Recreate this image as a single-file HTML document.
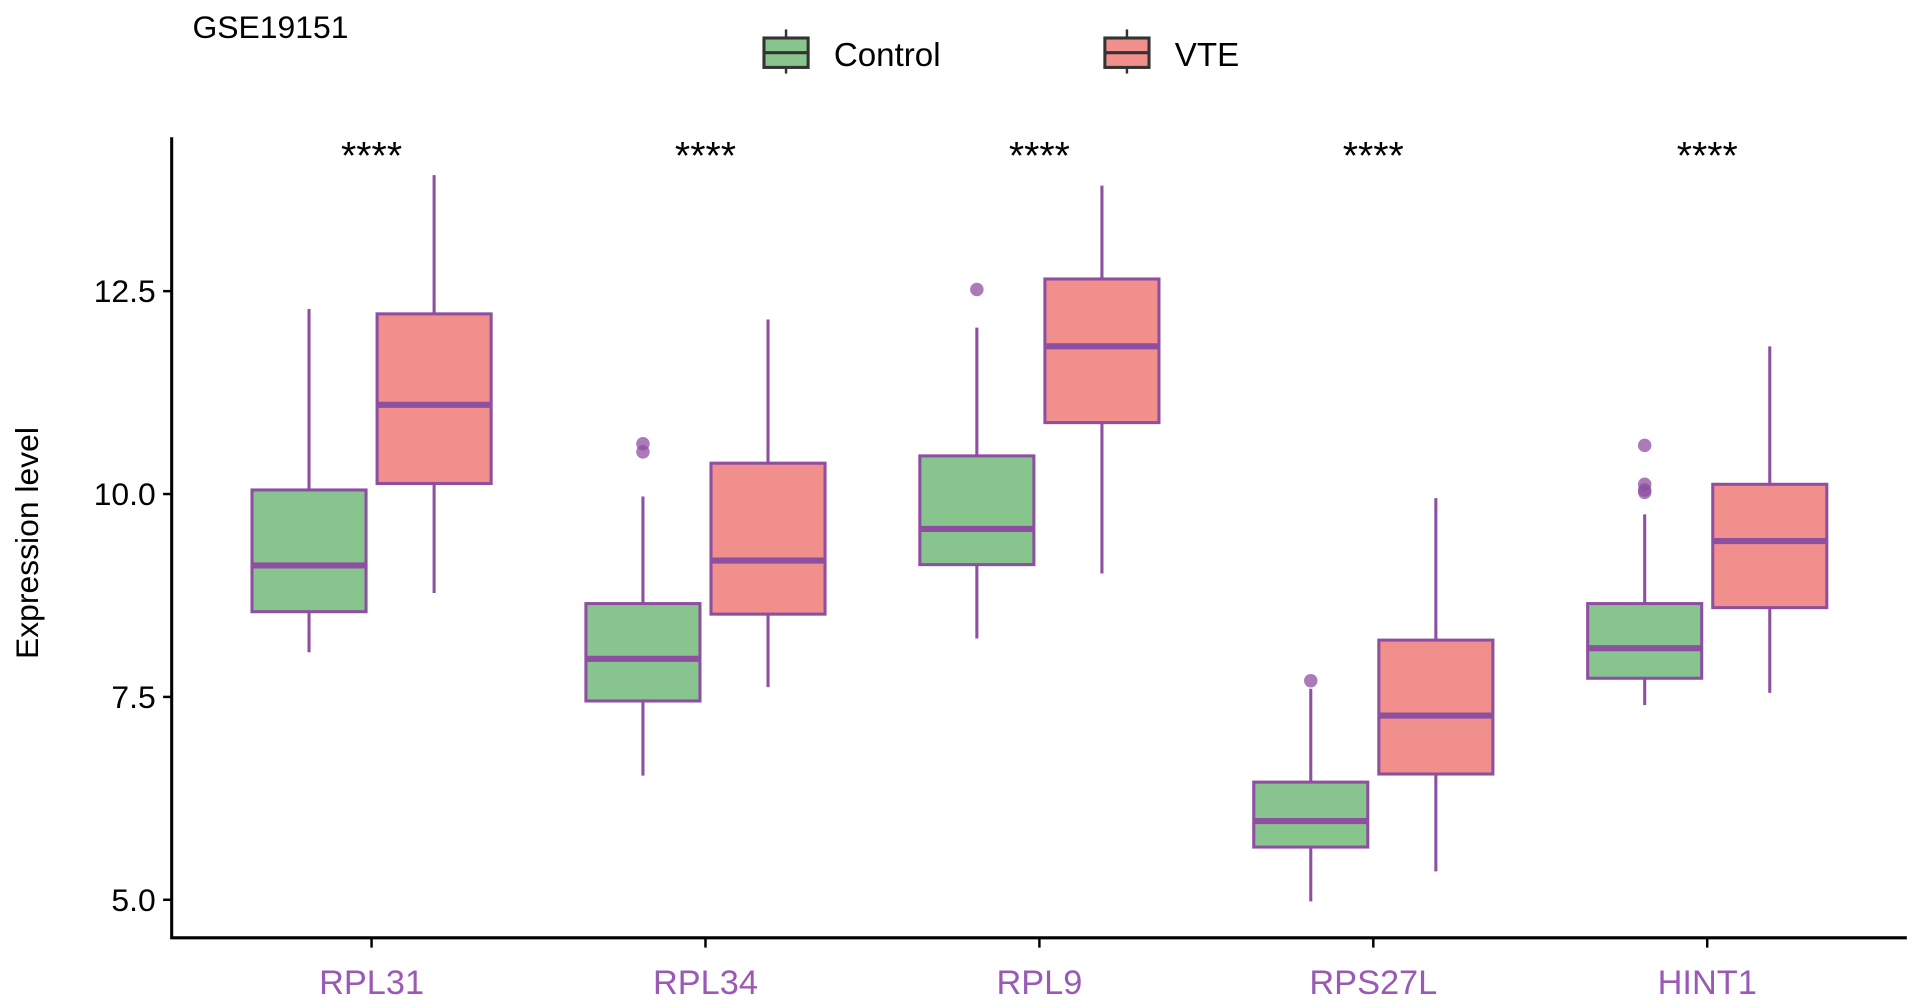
<!DOCTYPE html>
<html><head><meta charset="utf-8"><style>
html,body{margin:0;padding:0;background:#fff;}
svg{display:block;font-family:"Liberation Sans",Arial,sans-serif;}
</style></head><body>
<svg id="chart" width="1913" height="1004" viewBox="0 0 1560 819" preserveAspectRatio="none" xmlns="http://www.w3.org/2000/svg">
<text x="157" y="31" font-size="26" fill="#000">GSE19151</text>
<g>
 <g>
  <line x1="641" y1="24" x2="641" y2="60" stroke="#333" stroke-width="2"/>
  <rect x="623" y="31" width="36" height="24" fill="#88c48e" stroke="#333" stroke-width="2.5"/>
  <line x1="623" y1="43" x2="659" y2="43" stroke="#333" stroke-width="2.5"/>
  <text x="680" y="54" font-size="27" fill="#000">Control</text>
 </g>
 <g>
  <line x1="919" y1="24" x2="919" y2="60" stroke="#333" stroke-width="2"/>
  <rect x="901" y="31" width="36" height="24" fill="#f08f8b" stroke="#333" stroke-width="2.5"/>
  <line x1="901" y1="43" x2="937" y2="43" stroke="#333" stroke-width="2.5"/>
  <text x="958" y="54" font-size="27" fill="#000">VTE</text>
 </g>
</g>
<text transform="translate(31,443) rotate(-90)" text-anchor="middle" font-size="26" fill="#000">Expression level</text>
<g id="plot"></g>
</svg>
<script>
const categories=["RPL31","RPL34","RPL9","RPS27L","HINT1"];
const ctrlLow=[8.05,6.53,8.22,4.98,7.4];
const ctrlQ1=[8.55,7.45,9.13,5.65,7.73];
const ctrlMed=[9.12,7.97,9.57,5.97,8.1];
const ctrlQ3=[10.05,8.65,10.47,6.45,8.65];
const ctrlHigh=[12.28,9.97,12.05,7.6,9.75];
const ctrlOut=[[],[10.52,10.62],[12.52],[7.7],[10.6,10.12,10.05,10.02]];
const vteLow=[8.78,7.62,9.02,5.35,7.55];
const vteQ1=[10.13,8.52,10.88,6.55,8.6];
const vteMed=[11.1,9.18,11.82,7.27,9.42];
const vteQ3=[12.22,10.38,12.65,8.2,10.12];
const vteHigh=[13.93,12.15,13.8,9.95,11.82];
const vteOut=[[],[],[],[],[]];
const sigLabels=["****","****","****","****","****"];
const yTicks=[5,7.5,10,12.5];
const yTickLabels=["5.0","7.5","10.0","12.5"];

const NS="http://www.w3.org/2000/svg";
const g=document.getElementById('plot');
const X0=140,X1=1555,YB=765,YT=112;
const yS=v=>734-(v-5)*66.2;
const xS=i=>303+i*272.3;
function mk(tag,attrs,parent){const e=document.createElementNS(NS,tag);for(const k in attrs)e.setAttribute(k,attrs[k]);(parent||g).appendChild(e);return e;}
const PUR="#8e4fa0";
let ax=mk('line',{x1:X0,y1:YT,x2:X0,y2:YB+1,stroke:'#000','stroke-width':2.5});


let bx=mk('line',{x1:X0-1,y1:YB,x2:X1,y2:YB,stroke:'#000','stroke-width':2.5});


yTicks.forEach((v,i)=>{
 let t=mk('line',{x1:X0-7,x2:X0,y1:yS(v),y2:yS(v),stroke:'#000','stroke-width':2});
 
 
 let l=mk('text',{x:X0-13,y:yS(v)+9,'text-anchor':'end','font-size':26,fill:'#000'});
 l.textContent=yTickLabels[i];
 
 
});
function box(cx,lo,q1,md,q3,hi,outs,fill,name){
 const grp=mk('g',{});
 
 
 const w=93;
 mk('line',{x1:cx,x2:cx,y1:yS(hi),y2:yS(q3),stroke:PUR,'stroke-width':2.5},grp);
 mk('line',{x1:cx,x2:cx,y1:yS(q1),y2:yS(lo),stroke:PUR,'stroke-width':2.5},grp);
 mk('rect',{x:cx-w/2,y:yS(q3),width:w,height:yS(q1)-yS(q3),fill:fill,stroke:PUR,'stroke-width':2.5},grp);
 mk('line',{x1:cx-w/2,x2:cx+w/2,y1:yS(md),y2:yS(md),stroke:PUR,'stroke-width':5},grp);
 outs.forEach(o=>{
  let c=mk('circle',{cx:cx,cy:yS(o),r:5.5,fill:PUR,'fill-opacity':0.75},grp);
  
  
 });
}
categories.forEach((c,i)=>{
 const cx=xS(i);
 box(cx-51,ctrlLow[i],ctrlQ1[i],ctrlMed[i],ctrlQ3[i],ctrlHigh[i],ctrlOut[i],'#88c48e','box-control-'+c.toLowerCase());
 box(cx+51,vteLow[i],vteQ1[i],vteMed[i],vteQ3[i],vteHigh[i],vteOut[i],'#f08f8b','box-vte-'+c.toLowerCase());
 let t=mk('line',{x1:cx,x2:cx,y1:YB,y2:YB+8,stroke:'#000','stroke-width':2});
 
 
 let l=mk('text',{x:cx,y:811,'text-anchor':'middle','font-size':28,fill:'#9b59b6'});
 l.textContent=c;
 
 
 let s=mk('text',{x:cx,y:138,'text-anchor':'middle','font-size':32,fill:'#000'});
 s.textContent=sigLabels[i];
 
 
});
</script>
</body></html>
